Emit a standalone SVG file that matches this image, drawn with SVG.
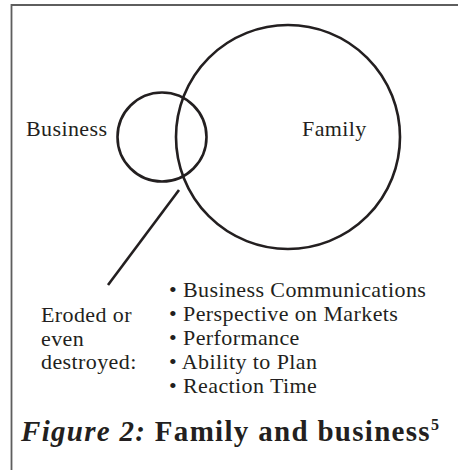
<svg xmlns="http://www.w3.org/2000/svg" width="458" height="470" viewBox="0 0 458 470">
  <style>
    .frame { fill: none; stroke: #5e5e5e; stroke-width: 1.8; }
    .ring { fill: none; stroke: #231f20; stroke-width: 2.6; }
    .link { stroke: #231f20; stroke-width: 2.6; fill: none; }
    .lbl { font-family: "Liberation Serif", "Times New Roman", serif; font-size: 22px; letter-spacing: 0.4px; fill: #231f20; }
    .cap { font-family: "Liberation Serif", "Times New Roman", serif; font-size: 29px; font-weight: bold; letter-spacing: 1.3px; fill: #231f20; }
  </style>
  <rect width="458" height="470" fill="#ffffff"/>
  <!-- open frame: top and left edges -->
  <path class="frame" d="M11.5,470 V5 H458"/>

  <g id="family">
    <circle class="ring" cx="288" cy="137" r="112"/>
    <text class="lbl" x="302" y="136">Family</text>
  </g>

  <g id="business">
    <circle class="ring" cx="162" cy="137" r="44.5"/>
    <text class="lbl" x="26" y="136">Business</text>
  </g>

  <g id="connectors">
    <line class="link" x1="179" y1="190" x2="108" y2="285"/>
  </g>

  <g id="eroded">
    <text class="lbl" x="41" y="322">Eroded or</text>
    <text class="lbl" x="41" y="346">even</text>
    <text class="lbl" x="41" y="369">destroyed:</text>
  </g>

  <g id="effects">
    <text class="lbl" x="169" y="297">• Business Communications</text>
    <text class="lbl" x="169" y="321">• Perspective on Markets</text>
    <text class="lbl" x="169" y="345">• Performance</text>
    <text class="lbl" x="169" y="369">• Ability to Plan</text>
    <text class="lbl" x="169" y="393">• Reaction Time</text>
  </g>

  <g id="caption">
    <text class="cap" x="21" y="441"><tspan font-style="italic">Figure 2:</tspan> Family and business<tspan font-size="16" letter-spacing="0" dy="-11">5</tspan></text>
  </g>
</svg>
